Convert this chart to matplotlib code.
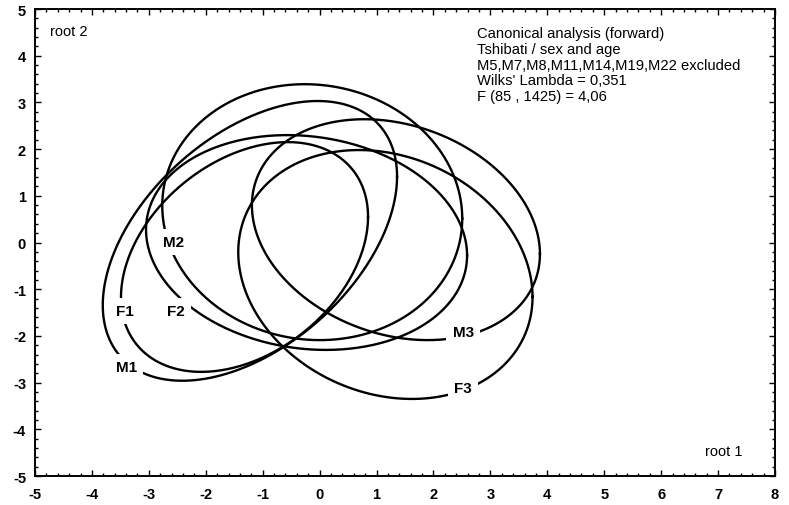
import matplotlib.pyplot as plt
import numpy as np

plt.rcParams['font.family'] = ['Liberation Sans', 'DejaVu Sans']
plt.rcParams['axes.unicode_minus'] = False

# group ellipses (centre, half widths, tilt as correlation)
groups = ['F1', 'F2', 'F3', 'M1', 'M2', 'M3']
center_x = [-1.32, -0.23, 1.155, -1.225, -0.13, 1.34]
center_y = [-0.31, 0.00, -0.685, 0.035, 0.65, 0.275]
spread_x = [2.17, 2.82, 2.585, 2.585, 2.635, 2.53]
spread_y = [2.46, 2.30, 2.665, 2.995, 2.74, 2.365]
corr = [0.35, -0.12, -0.18, 0.46, -0.05, -0.22]
label_x = [-3.42, -2.52, 2.52, -3.40, -2.57, 2.52]
label_y = [-1.47, -1.47, -3.12, -2.67, 0.01, -1.92]

info = ["Canonical analysis (forward)",
        "Tshibati / sex and age",
        "M5,M7,M8,M11,M14,M19,M22 excluded",
        "Wilks' Lambda = 0,351",
        "F (85 , 1425) = 4,06"]

fig = plt.figure(figsize=(7.89, 5.06), dpi=100)
ax = fig.add_axes([0.0444, 0.0573, 0.9379, 0.9229])

t = np.linspace(0, 2 * np.pi, 500)
for i, g in enumerate(groups):
    r = corr[i]
    x = center_x[i] + spread_x[i] * np.cos(t)
    y = center_y[i] + spread_y[i] * (r * np.cos(t) + np.sqrt(1 - r ** 2) * np.sin(t))
    ax.plot(x, y, color='black', lw=1.7, zorder=2)
    ax.text(label_x[i], label_y[i], g, fontsize=11, fontweight='bold',
            ha='center', va='center', zorder=3,
            bbox=dict(facecolor='white', edgecolor='none', pad=4.5))

ax.text(2.77, 4.64, "\n".join(info), fontsize=10.6, va='top', ha='left',
        linespacing=1.17)
ax.text(-4.74, 4.53, "root 2", fontsize=10.5, va='center', ha='left')
ax.text(6.77, -4.46, "root 1", fontsize=10.5, va='center', ha='left')

ax.set_xlim(-5, 8)
ax.set_ylim(-5, 5)
ax.set_xticks(range(-5, 9))
ax.set_yticks(range(-5, 6))
ax.set_xticks(np.arange(-5, 8.01, 0.2), minor=True)
ax.set_yticks(np.arange(-5, 5.01, 0.2), minor=True)
ax.tick_params(which='both', direction='in', top=True, right=True, width=1)
ax.tick_params(which='major', length=4, labelsize=10.5)
ax.tick_params(axis='x', which='major', pad=8)
ax.tick_params(axis='y', which='major', pad=6.5)
ax.tick_params(which='minor', length=2)
for lab in ax.get_xticklabels() + ax.get_yticklabels():
    lab.set_fontweight('bold')
for s in ax.spines.values():
    s.set_linewidth(1.4)

fig.savefig('out.png', dpi=100)
